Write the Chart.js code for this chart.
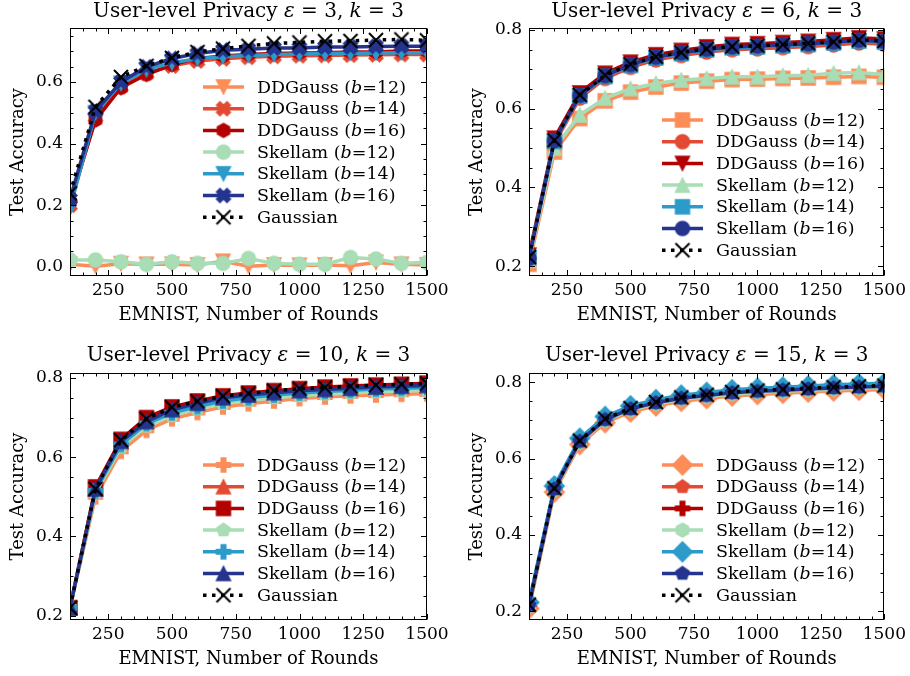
<!DOCTYPE html>
<html>
<head>
<meta charset="utf-8">
<script src="https://cdn.jsdelivr.net/npm/chart.js"></script>
<style>
  body { margin: 0; background: #fff; }
  #page { position: relative; width: 910px; height: 676px; }
  .panel { position: absolute; width: 455px; height: 338px; }
</style>
</head>
<body>
<div id="page">
  <div class="panel" style="left:0;top:0"><canvas id="c0" width="455" height="338"></canvas></div>
  <div class="panel" style="left:455px;top:0"><canvas id="c1" width="455" height="338"></canvas></div>
  <div class="panel" style="left:0;top:338px"><canvas id="c2" width="455" height="338"></canvas></div>
  <div class="panel" style="left:455px;top:338px"><canvas id="c3" width="455" height="338"></canvas></div>
</div>
<script>
// ---- data ----
const ROUNDS = [100, 200, 300, 400, 500, 600, 700, 800, 900, 1000, 1100, 1200, 1300, 1400, 1500];
const LABELS = ['DDGauss (b=12)', 'DDGauss (b=14)', 'DDGauss (b=16)',
                'Skellam (b=12)', 'Skellam (b=14)', 'Skellam (b=16)', 'Gaussian'];
const EPSILONS = [3, 6, 10, 15];
const K = 3;
const X_TICKS = [250, 500, 750, 1000, 1250, 1500];
const Y_TICKS_EPS3 = [0.0, 0.2, 0.4, 0.6];
const Y_TICKS = [0.2, 0.4, 0.6, 0.8];

// epsilon = 3
const EPS3_DDG12 = [0.008, 0.002, 0.010, 0.008, 0.008, 0.006, 0.018, 0.002, 0.006, 0.005, 0.006, 0.003, 0.014, 0.008, 0.006];
const EPS3_DDG14 = [0.200, 0.485, 0.585, 0.628, 0.652, 0.668, 0.675, 0.680, 0.683, 0.685, 0.686, 0.687, 0.688, 0.689, 0.689];
const EPS3_DDG16 = [0.210, 0.476, 0.581, 0.624, 0.656, 0.676, 0.684, 0.689, 0.692, 0.694, 0.695, 0.697, 0.697, 0.700, 0.700];
const EPS3_SK12  = [0.022, 0.022, 0.016, 0.008, 0.016, 0.011, 0.011, 0.027, 0.011, 0.008, 0.008, 0.030, 0.025, 0.011, 0.014];
const EPS3_SK14  = [0.190, 0.500, 0.595, 0.640, 0.662, 0.675, 0.682, 0.686, 0.689, 0.691, 0.692, 0.693, 0.694, 0.695, 0.695];
const EPS3_SK16  = [0.220, 0.505, 0.600, 0.649, 0.676, 0.692, 0.703, 0.706, 0.710, 0.710, 0.713, 0.713, 0.715, 0.716, 0.716];
const EPS3_GAUSS = [0.238, 0.519, 0.616, 0.652, 0.678, 0.697, 0.708, 0.717, 0.725, 0.728, 0.732, 0.733, 0.736, 0.738, 0.735];

// epsilon = 6
const EPS6_DDG12 = [0.205, 0.490, 0.575, 0.620, 0.642, 0.655, 0.665, 0.670, 0.674, 0.675, 0.677, 0.678, 0.680, 0.682, 0.680];
const EPS6_DDG14 = [0.215, 0.512, 0.627, 0.677, 0.705, 0.724, 0.735, 0.744, 0.750, 0.752, 0.755, 0.758, 0.762, 0.767, 0.764];
const EPS6_DDG16 = [0.228, 0.525, 0.640, 0.690, 0.718, 0.737, 0.748, 0.757, 0.763, 0.765, 0.768, 0.771, 0.775, 0.780, 0.777];
const EPS6_SK12  = [0.215, 0.500, 0.584, 0.627, 0.651, 0.664, 0.673, 0.677, 0.681, 0.681, 0.684, 0.685, 0.690, 0.692, 0.687];
const EPS6_SK14  = [0.222, 0.517, 0.632, 0.682, 0.710, 0.729, 0.740, 0.749, 0.755, 0.757, 0.760, 0.763, 0.767, 0.772, 0.769];
const EPS6_SK16  = [0.220, 0.519, 0.634, 0.684, 0.712, 0.731, 0.742, 0.751, 0.757, 0.759, 0.762, 0.765, 0.769, 0.774, 0.771];
const EPS6_GAUSS = [0.223, 0.520, 0.635, 0.685, 0.713, 0.732, 0.743, 0.752, 0.758, 0.760, 0.763, 0.766, 0.770, 0.775, 0.772];

// epsilon = 10
const EPS10_DDG12 = [0.220, 0.500, 0.615, 0.668, 0.697, 0.713, 0.727, 0.735, 0.742, 0.748, 0.752, 0.755, 0.757, 0.759, 0.760];
const EPS10_DDG14 = [0.220, 0.520, 0.640, 0.695, 0.722, 0.738, 0.752, 0.758, 0.765, 0.770, 0.773, 0.776, 0.779, 0.781, 0.783];
const EPS10_DDG16 = [0.220, 0.525, 0.645, 0.700, 0.727, 0.742, 0.755, 0.762, 0.768, 0.773, 0.777, 0.780, 0.782, 0.784, 0.787];
const EPS10_SK12  = [0.220, 0.510, 0.625, 0.678, 0.705, 0.722, 0.735, 0.743, 0.750, 0.755, 0.759, 0.762, 0.765, 0.767, 0.769];
const EPS10_SK14  = [0.220, 0.515, 0.632, 0.685, 0.712, 0.728, 0.742, 0.750, 0.757, 0.762, 0.766, 0.769, 0.772, 0.774, 0.776];
const EPS10_SK16  = [0.220, 0.520, 0.640, 0.690, 0.720, 0.736, 0.750, 0.757, 0.763, 0.768, 0.771, 0.774, 0.777, 0.779, 0.781];
const EPS10_GAUSS = [0.220, 0.520, 0.643, 0.697, 0.726, 0.741, 0.754, 0.761, 0.768, 0.773, 0.776, 0.779, 0.782, 0.784, 0.786];

// epsilon = 15
const EPS15_DDG12 = [0.207, 0.512, 0.637, 0.694, 0.722, 0.738, 0.750, 0.757, 0.764, 0.768, 0.771, 0.774, 0.777, 0.779, 0.781];
const EPS15_DDG14 = [0.218, 0.523, 0.648, 0.705, 0.733, 0.749, 0.761, 0.768, 0.775, 0.779, 0.782, 0.785, 0.788, 0.790, 0.792];
const EPS15_DDG16 = [0.219, 0.524, 0.649, 0.706, 0.734, 0.750, 0.762, 0.769, 0.776, 0.780, 0.783, 0.786, 0.789, 0.791, 0.793];
const EPS15_SK12  = [0.212, 0.517, 0.642, 0.699, 0.727, 0.743, 0.755, 0.762, 0.769, 0.773, 0.776, 0.779, 0.782, 0.784, 0.786];
const EPS15_SK14  = [0.223, 0.528, 0.653, 0.710, 0.738, 0.754, 0.766, 0.773, 0.780, 0.784, 0.787, 0.790, 0.793, 0.795, 0.797];
const EPS15_SK16  = [0.215, 0.520, 0.645, 0.702, 0.730, 0.746, 0.758, 0.765, 0.772, 0.776, 0.779, 0.782, 0.785, 0.787, 0.789];
const EPS15_GAUSS = [0.217, 0.522, 0.647, 0.704, 0.732, 0.748, 0.760, 0.767, 0.774, 0.778, 0.781, 0.784, 0.787, 0.789, 0.791];

// ---- styles ----
const COLORS = ['#fc8d59', '#e34a33', '#b30000', '#a8ddb5', '#2c9bc9', '#24348f', '#000000'];
const MARKERS_EPS3  = ['v', 'X', 'h', 'o', 'v', 'X', 'x'];
const MARKERS_EPS6  = ['s', 'o', 'v', '^', 's', 'o', 'x'];
const MARKERS_EPS10 = ['P', '^', 's', 'p', 'P', '^', 'x'];
const MARKERS_EPS15 = ['D', 'p', 'P', 'h', 'D', 'p', 'x'];
const FONT = 'DejaVu Serif';
const MS = 14, MEW = 1.4, LW = 3.5;
const W = 455, H = 338;

const PANELS = [
  { eps: EPSILONS[0], series: [EPS3_DDG12, EPS3_DDG14, EPS3_DDG16, EPS3_SK12, EPS3_SK14, EPS3_SK16, EPS3_GAUSS],
    markers: MARKERS_EPS3, yMin: -0.03, yMax: 0.775, yTicks: Y_TICKS_EPS3,
    area: { l: 70, r: 427, t: 28, b: 276 }, titleGap: 11, legendTop: 59 },
  { eps: EPSILONS[1], series: [EPS6_DDG12, EPS6_DDG14, EPS6_DDG16, EPS6_SK12, EPS6_SK14, EPS6_SK16, EPS6_GAUSS],
    markers: MARKERS_EPS6, yMin: 0.175, yMax: 0.805, yTicks: Y_TICKS,
    area: { l: 74, r: 430, t: 28, b: 276 }, titleGap: 11, legendTop: 92 },
  { eps: EPSILONS[2], series: [EPS10_DDG12, EPS10_DDG14, EPS10_DDG16, EPS10_SK12, EPS10_SK14, EPS10_SK16, EPS10_GAUSS],
    markers: MARKERS_EPS10, yMin: 0.189, yMax: 0.8126, yTicks: Y_TICKS,
    area: { l: 70, r: 427, t: 35, b: 282 }, titleGap: 12.3, legendTop: 92 },
  { eps: EPSILONS[3], series: [EPS15_DDG12, EPS15_DDG14, EPS15_DDG16, EPS15_SK12, EPS15_SK14, EPS15_SK16, EPS15_GAUSS],
    markers: MARKERS_EPS15, yMin: 0.177, yMax: 0.824, yTicks: Y_TICKS,
    area: { l: 74, r: 430, t: 35, b: 282 }, titleGap: 12.3, legendTop: 92 },
];

// matplotlib-like marker shapes, s = half marker size
function markerPath(ctx, shape, s) {
  ctx.beginPath();
  const poly = (pts, k) => {
    pts.forEach(([x, y], i) => i ? ctx.lineTo(x * s / k, -y * s / k) : ctx.moveTo(x * s / k, -y * s / k));
    ctx.closePath();
  };
  const reg = n => {
    const pts = [];
    for (let i = 0; i < n; i++) {
      const a = Math.PI / 2 + i * 2 * Math.PI / n;
      pts.push([Math.cos(a), Math.sin(a)]);
    }
    poly(pts, 1);
  };
  switch (shape) {
    case 'o': ctx.arc(0, 0, s, 0, 2 * Math.PI); break;
    case 's': poly([[-1, -1], [1, -1], [1, 1], [-1, 1]], 1); break;
    case 'D': poly([[0, 1.414], [1.414, 0], [0, -1.414], [-1.414, 0]], 1); break;
    case '^': poly([[0, 1], [-1, -1], [1, -1]], 1); break;
    case 'v': poly([[0, -1], [-1, 1], [1, 1]], 1); break;
    case 'p': reg(5); break;
    case 'h': reg(6); break;
    case 'P': poly([[-1, -3], [1, -3], [1, -1], [3, -1], [3, 1], [1, 1], [1, 3], [-1, 3], [-1, 1], [-3, 1], [-3, -1], [-1, -1]], 3); break;
    case 'X': poly([[-1, -2], [0, -1], [1, -2], [2, -1], [1, 0], [2, 1], [1, 2], [0, 1], [-1, 2], [-2, 1], [-1, 0], [-2, -1]], 2); break;
    case 'x': ctx.moveTo(-s, -s); ctx.lineTo(s, s); ctx.moveTo(-s, s); ctx.lineTo(s, -s); break;
  }
}

function makeMarker(shape, color) {
  const s = MS / 2;
  const size = Math.ceil(2 * (1.45 * s + MEW)) + 2;
  const c = document.createElement('canvas');
  c.width = c.height = size;
  const ctx = c.getContext('2d');
  ctx.translate(size / 2, size / 2);
  markerPath(ctx, shape, s);
  ctx.strokeStyle = color;
  if (shape === 'x') {
    ctx.lineWidth = 2;
    ctx.stroke();
  } else {
    ctx.fillStyle = color;
    ctx.fill();
    ctx.lineWidth = MEW;
    ctx.stroke();
  }
  return c;
}

// text with italic parts: segs = [[text, italic], ...]
function drawRich(ctx, segs, x, y, size, align) {
  const fonts = segs.map(([, it]) => (it ? 'italic ' : '') + size + 'px "' + FONT + '"');
  let total = 0;
  const widths = segs.map(([t], i) => { ctx.font = fonts[i]; const w = ctx.measureText(t).width; total += w; return w; });
  let cx = align === 'center' ? x - total / 2 : x;
  segs.forEach(([t], i) => { ctx.font = fonts[i]; ctx.fillText(t, cx, y); cx += widths[i]; });
}

function labelSegs(label) {
  const k = label.indexOf('(b');
  if (k < 0) return [[label, false]];
  return [[label.slice(0, k + 1), false], ['b', true], [label.slice(k + 2), false]];
}

// frame with inward ticks on all four sides
function framePlugin(p) {
  return {
    id: 'frame',
    afterDatasetsDraw(chart) {
      const { ctx, chartArea: a, scales: { x, y } } = chart;
      const L = Math.round(a.left) + 0.5, R = Math.round(a.right) - 0.5;
      const T = Math.round(a.top) + 0.5, B = Math.round(a.bottom) - 0.5;
      ctx.save();
      ctx.strokeStyle = '#000';
      ctx.lineWidth = 1;
      ctx.strokeRect(L, T, R - L, B - T);
      ctx.beginPath();
      for (let v = 100; v <= 1500; v += 50) {
        const len = X_TICKS.includes(v) ? 5.5 : 3;
        const px = Math.round(x.getPixelForValue(v)) + 0.5;
        ctx.moveTo(px, B); ctx.lineTo(px, B - len);
        ctx.moveTo(px, T); ctx.lineTo(px, T + len);
      }
      for (let i = Math.ceil(y.min / 0.05 - 1e-9); i * 0.05 <= y.max + 1e-9; i++) {
        const v = i * 0.05;
        const len = p.yTicks.some(m => Math.abs(m - v) < 1e-6) ? 5.5 : 3;
        const py = Math.round(y.getPixelForValue(v)) + 0.5;
        ctx.moveTo(L, py); ctx.lineTo(L + len, py);
        ctx.moveTo(R, py); ctx.lineTo(R - len, py);
      }
      ctx.stroke();
      ctx.restore();
    }
  };
}

function panelPlugin(p) {
  return {
    id: 'panelText',
    afterDraw(chart) {
      const { ctx, chartArea: a } = chart;
      ctx.save();
      ctx.fillStyle = '#000';
      ctx.textBaseline = 'alphabetic';
      drawRich(ctx, [['User-level Privacy ', false], ['\u03b5', true], [' = ' + p.eps + ', ', false], ['k', true], [' = ' + K, false]],
        (a.left + a.right) / 2, a.top - p.titleGap, 20, 'center');
      // legend
      const x0 = a.left + 133;
      chart.data.datasets.forEach((ds, i) => {
        const yy = a.top + p.legendTop + i * 21.7;
        ctx.save();
        ctx.strokeStyle = ds.borderColor;
        ctx.lineWidth = LW;
        ctx.lineCap = 'butt';
        ctx.setLineDash(ds.borderDash);
        ctx.beginPath();
        ctx.moveTo(x0, yy); ctx.lineTo(x0 + 41, yy);
        ctx.stroke();
        ctx.restore();
        const m = ds.pointStyle;
        ctx.drawImage(m, x0 + 20.5 - m.width / 2, yy - m.height / 2);
        ctx.textBaseline = 'middle';
        drawRich(ctx, labelSegs(ds.label), x0 + 54, yy + 1, 17.5, 'left');
      });
      ctx.restore();
    }
  };
}

PANELS.forEach((p, n) => {
  const a = p.area;
  const tickFont = { family: FONT, size: 17 };
  new Chart(document.getElementById('c' + n), {
    type: 'line',
    data: {
      datasets: p.series.map((vals, i) => ({
        label: LABELS[i],
        data: ROUNDS.map((r, j) => ({ x: r, y: vals[j] })),
        borderColor: COLORS[i],
        backgroundColor: COLORS[i],
        borderWidth: LW,
        borderDash: i === 6 ? [3.5, 5.5] : [],
        borderCapStyle: 'butt',
        pointStyle: makeMarker(p.markers[i], COLORS[i]),
        pointRadius: 7,
        tension: 0,
        clip: 0,
        order: 6 - i
      }))
    },
    options: {
      responsive: false,
      animation: false,
      events: [],
      devicePixelRatio: 1,
      layout: { padding: { left: 0, right: W - a.r, top: a.t, bottom: 0 } },
      plugins: { legend: { display: false }, tooltip: { enabled: false } },
      scales: {
        x: {
          type: 'linear', min: 100, max: 1500,
          afterFit: s => { s.height = H - a.b; },
          afterBuildTicks: s => { s.ticks = X_TICKS.map(v => ({ value: v })); },
          grid: { display: false, drawTicks: false },
          border: { display: false },
          ticks: { font: tickFont, color: '#000', padding: 4, maxRotation: 0, autoSkip: false, callback: v => String(v) },
          title: { display: true, text: 'EMNIST, Number of Rounds', color: '#000', font: { family: FONT, size: 18 },
                   padding: { top: 0, bottom: H - a.b - 39 - 10.8 } }
        },
        y: {
          type: 'linear', min: p.yMin, max: p.yMax,
          afterFit: s => { s.width = a.l; },
          afterBuildTicks: s => { s.ticks = p.yTicks.map(v => ({ value: v })); },
          grid: { display: false, drawTicks: false },
          border: { display: false },
          ticks: { font: tickFont, color: '#000', padding: 7, callback: v => v.toFixed(1) },
          title: { display: true, text: 'Test Accuracy', color: '#000', font: { family: FONT, size: 18 },
                   padding: { top: a.l - 52 - 10.8, bottom: 0 } }
        }
      }
    },
    plugins: [framePlugin(p), panelPlugin(p)]
  });
});
</script>
</body>
</html>
